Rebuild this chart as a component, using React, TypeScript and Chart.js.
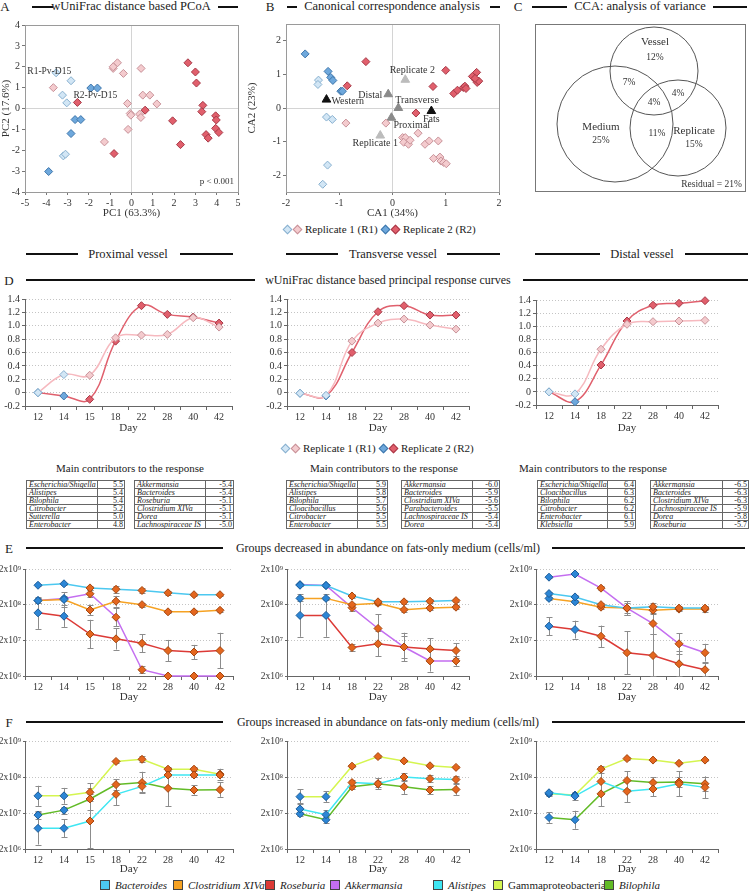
import React, { useEffect, useRef } from "react";
import { Chart, registerables } from "chart.js";

Chart.register(...registerables);
const FONT = "'Liberation Serif', 'Times New Roman', Times, serif";
Chart.defaults.font.family = FONT;
Chart.defaults.color = "#333";

// ================= DATA =================
// A: wUniFrac PCoA  [PC1, PC2]
const pcoaR1Western = [[-3.54, 1.71], [-2.84, 1.33], [-3.24, 0.64], [-3.04, 0.27], [-3.2, -2.27], [-3.1, -2.19]];
const pcoaR2Western = [[-1.91, 0.98], [-1.6, 0.98], [-2.65, -0.53], [-2.38, -0.53], [-2.84, -1.2], [-3.89, -3.02]];
const pcoaR1Fats = [[-3.67, 1.0], [-0.86, 1.92], [-0.66, 2.19], [-0.86, 2.0], [-0.38, 1.68], [0.45, 1.92], [-0.19, 0.24], [-0.06, -0.24], [-0.03, -0.32], [0.53, 0.64], [0.86, 0.64], [1.19, 0.22], [0.38, -0.27], [0.44, -0.43], [-0.16, -1.0], [-1.27, -1.6]];
const pcoaR2Fats = [[-2.54, 0.29], [0.64, -0.08], [-0.82, -2.16], [1.93, -0.59], [2.3, -1.73], [2.65, 2.19], [3.0, 1.75], [3.05, 1.22], [3.35, 0.15], [3.3, -0.15], [3.95, -0.35], [3.98, -0.55], [3.95, -0.95], [4.1, -1.15], [3.5, -1.25], [3.6, -1.42]];

// B: CCA  [CA1, CA2]
const ccaR1Western = [[-1.39, 0.83], [-1.4, 0.7], [-1.24, -0.27], [-1.13, -0.34], [-1.22, -1.7], [-1.31, -2.27]];
const ccaR2Western = [[-1.64, 1.61], [-1.21, 1.09], [-1.16, 0.91], [-1.12, 0.82], [-0.97, 0.5], [-0.94, 0.5]];
const ccaR1Fats = [[-0.875, -0.45], [-0.125, -0.45], [0.19, -0.88], [0.24, -0.88], [0.21, -1.02], [0.3, -1.08], [0.33, -0.96], [0.48, -0.75], [0.61, -1.08], [0.69, -0.98], [0.86, -0.98], [0.77, -1.5], [0.89, -1.46], [0.91, -1.58], [0.96, -1.62], [1.01, -1.66]];
const ccaR2Fats = [[-0.5, 1.38], [-0.85, 0.66], [0.44, -0.15], [0.76, 0.64], [1.0, 1.12], [1.15, 0.43], [1.22, 0.53], [1.33, 0.61], [1.36, 0.65], [1.38, 0.58], [1.5, 0.94], [1.58, 1.06], [1.56, 0.84], [1.59, 0.76], [1.62, 0.8], [1.55, 0.88]];
const ccaReplicates = [["Replicate 2", 0.24, 0.84], ["Replicate 1", -0.23, -0.82]];
const ccaVessels = [["Distal", -0.08, 0.41], ["Transverse", 0.11, 0.0], ["Proximal", -0.02, -0.29]];
const ccaMedia = [["Western", -1.24, 0.25], ["Fats", 0.73, -0.09]];

// C: variance partitioning
const vennSets = [
  { name: "Vessel", pct: "12%", cx: 119, cy: 120, r: 44 },
  { name: "Medium", pct: "25%", cx: 80, cy: 67, r: 58 },
  { name: "Replicate", pct: "15%", cx: 143, cy: 63, r: 48 },
];
const vennShared = [["7%", 94, 109], ["4%", 143, 98], ["4%", 119, 89], ["11%", 122, 58]];
const vennResidual = "Residual = 21%";

// D: principal response curves
const days8 = ["12", "14", "15", "18", "22", "28", "40", "42"];
const days7 = ["12", "14", "18", "22", "28", "40", "42"];
const westernDays = ["12", "14"];
const proxR1 = [0.0, 0.27, 0.26, 0.82, 0.86, 0.87, 1.12, 0.98];
const proxR2 = [0.0, -0.05, -0.1, 0.77, 1.3, 1.17, 1.13, 1.04];
const transR1 = [-0.01, -0.04, 0.77, 1.04, 1.1, 1.01, 0.95];
const transR2 = [-0.01, -0.05, 0.6, 1.21, 1.3, 1.16, 1.16];
const distR1 = [0.0, -0.03, 0.65, 1.03, 1.07, 1.08, 1.09];
const distR2 = [0.0, -0.15, 0.41, 1.08, 1.32, 1.35, 1.39];
const prcTicks = [-0.2, 0, 0.2, 0.4, 0.6, 0.8, 1.0, 1.2, 1.4];

// Main contributors tables
const proxPos = [["Escherichia/Shigella", 5.5], ["Alistipes", 5.4], ["Bilophila", 5.4], ["Citrobacter", 5.2], ["Sutterella", 5.0], ["Enterobacter", 4.8]];
const proxNeg = [["Akkermansia", -5.4], ["Bacteroides", -5.4], ["Roseburia", -5.1], ["Clostridium XIVa", -5.1], ["Dorea", -5.1], ["Lachnospiraceae IS", -5.0]];
const transPos = [["Escherichia/Shigella", 5.9], ["Alistipes", 5.8], ["Bilophila", 5.7], ["Cloacibacillus", 5.6], ["Citrobacter", 5.5], ["Enterobacter", 5.5]];
const transNeg = [["Akkermansia", -6.0], ["Bacteroides", -5.9], ["Clostridium XIVa", -5.6], ["Parabacteroides", -5.5], ["Lachnospiraceae IS", -5.4], ["Dorea", -5.4]];
const distPos = [["Escherichia/Shigella", 6.4], ["Cloacibacillus", 6.3], ["Bilophila", 6.2], ["Citrobacter", 6.2], ["Enterobacter", 6.1], ["Klebsiella", 5.9]];
const distNeg = [["Akkermansia", -6.5], ["Bacteroides", -6.3], ["Clostridium XIVa", -6.3], ["Lachnospiraceae IS", -5.9], ["Dorea", -5.8], ["Roseburia", -5.7]];

// E: decreased groups (cells/ml); err = half-width in log10 units
const logTicks = [2e6, 2e7, 2e8, 2e9];
const eProxBacteroides = [7.0e8, 7.7e8, 5.9e8, 5.4e8, 5.0e8, 4.3e8, 3.8e8, 3.8e8];
const eProxBacteroidesErr = [0.03, 0.03, 0.06, 0.1, 0.07, 0.05, 0.03, 0.03];
const eProxClostridium = [2.6e8, 2.8e8, 1.42e8, 2.5e8, 2.0e8, 1.26e8, 1.26e8, 1.39e8];
const eProxClostridiumErr = [0.08, 0.2, 0.15, 0.15, 0.06, 0.04, 0.04, 0.04];
const eProxRoseburia = [1.18e8, 9.5e7, 3.0e7, 2.2e7, 1.65e7, 1.03e7, 9.4e6, 1.03e7];
const eProxRoseburiaErr = [0.45, 0.3, 0.4, 0.3, 0.25, 0.3, 0.2, 0.5];
const eProxAkkermansia = [2.6e8, 3.0e8, 4.05e8, 8.9e7, 3.0e6, 2.0e6, 2.0e6, 2.0e6];
const eProxAkkermansiaErr = [0.08, 0.08, 0.1, 0.25, 0.1, 0, 0, 0];

const eTransBacteroides = [7.0e8, 6.9e8, 3.5e8, 2.4e8, 2.4e8, 2.5e8, 2.6e8];
const eTransBacteroidesErr = [0.03, 0.03, 0.05, 0.05, 0.05, 0.05, 0.05];
const eTransClostridium = [3.0e8, 3.0e8, 2.0e8, 2.2e8, 1.45e8, 1.6e8, 1.7e8];
const eTransClostridiumErr = [0.06, 0.04, 0.05, 0.05, 0.06, 0.05, 0.05];
const eTransRoseburia = [1.0e8, 1.0e8, 1.26e7, 1.6e7, 1.3e7, 1.15e7, 1.03e7];
const eTransRoseburiaErr = [0.6, 0.6, 0.1, 0.35, 0.3, 0.3, 0.2];
const eTransAkkermansia = [7.3e8, 6.9e8, 1.65e8, 4.3e7, 1.3e7, 5.3e6, 5.3e6];
const eTransAkkermansiaErr = [0.03, 0.03, 0.1, 0.4, 0.4, 0.3, 0.15];

const eDistBacteroides = [4.1e8, 3.3e8, 2.0e8, 1.6e8, 1.75e8, 1.6e8, 1.6e8];
const eDistBacteroidesErr = [0.05, 0.04, 0.06, 0.2, 0.1, 0.05, 0.05];
const eDistClostridium = [3.0e8, 2.4e8, 1.7e8, 1.6e8, 1.4e8, 1.5e8, 1.5e8];
const eDistClostridiumErr = [0.04, 0.04, 0.04, 0.2, 0.1, 0.06, 0.08];
const eDistRoseburia = [5.0e7, 4.0e7, 2.6e7, 9.0e6, 7.5e6, 4.4e6, 3.0e6];
const eDistRoseburiaErr = [0.25, 0.25, 0.3, 0.6, 0.6, 0.35, 0.2];
const eDistAkkermansia = [1.18e9, 1.45e9, 5.8e8, 1.6e8, 5.9e7, 1.6e7, 9.0e6];
const eDistAkkermansiaErr = [0.03, 0.03, 0.05, 0.15, 0.3, 0.3, 0.25];

// F: increased groups
const fProxGamma = [6.0e7, 6.0e7, 7.5e7, 5.4e8, 6.2e8, 3.3e8, 3.3e8, 2.4e8];
const fProxGammaErr = [0.28, 0.22, 0.25, 0.05, 0.08, 0.05, 0.05, 0.15];
const fProxBilophila = [1.75e7, 2.4e7, 4.9e7, 1.23e8, 1.4e8, 9.7e7, 8.7e7, 8.9e7];
const fProxBilophilaErr = [0.1, 0.1, 0.3, 0.15, 0.3, 0.5, 0.13, 0.2];
const fProxAlistipes = [7.5e6, 7.5e6, 1.2e7, 6.6e7, 1.1e8, 2.27e8, 2.27e8, 2.27e8];
const fProxAlistipesErr = [0.45, 0.25, 0.75, 0.3, 0.15, 0.03, 0.05, 0.05];

const fTransGamma = [5.7e7, 5.7e7, 4.0e8, 7.4e8, 5.6e8, 4.1e8, 3.7e8];
const fTransGammaErr = [0.2, 0.15, 0.03, 0.03, 0.03, 0.03, 0.03];
const fTransAlistipes = [2.6e7, 1.8e7, 1.4e8, 1.3e8, 2.0e8, 1.8e8, 1.7e8];
const fTransAlistipesErr = [0.15, 0.12, 0.06, 0.08, 0.1, 0.1, 0.1];
const fTransBilophila = [1.9e7, 1.3e7, 1.07e8, 1.3e8, 1.07e8, 8.7e7, 9.0e7];
const fTransBilophilaErr = [0.05, 0.08, 0.05, 0.15, 0.2, 0.1, 0.15];

const fDistGamma = [6.8e7, 6.3e7, 3.3e8, 6.5e8, 5.9e8, 4.8e8, 5.9e8];
const fDistGammaErr = [0.05, 0.03, 0.1, 0.03, 0.03, 0.03, 0.03];
const fDistAlistipes = [7.3e7, 5.9e7, 1.5e8, 8.0e7, 9.3e7, 1.3e8, 1.03e8];
const fDistAlistipesErr = [0.05, 0.1, 0.35, 0.3, 0.2, 0.35, 0.3];
const fDistBilophila = [1.5e7, 1.3e7, 6.8e7, 1.6e8, 1.4e8, 1.45e8, 1.3e8];
const fDistBilophilaErr = [0.15, 0.25, 0.35, 0.25, 0.15, 0.15, 0.2];

const taxaLegend = ["Bacteroides", "Clostridium XIVa", "Roseburia", "Akkermansia", "Alistipes", "Gammaproteobacteria", "Bilophila"];

// ================= STYLES =================
const TAXA_COLOR: Record<string, string> = {
  Bacteroides: "#4cc8f0",
  "Clostridium XIVa": "#f6a223",
  Roseburia: "#dc3a36",
  Akkermansia: "#c46ef0",
  Alistipes: "#3fe6f2",
  Gammaproteobacteria: "#d5f550",
  Bilophila: "#62bb27",
};
const MK = {
  western: { fill: "#2c86d6", stroke: "#1b5b98" },
  fats: { fill: "#e4661e", stroke: "#a5460e" },
};
const REP = {
  r1w: { fill: "#d2e6f5", stroke: "#88b0cf" },
  r2w: { fill: "#6ea8dc", stroke: "#3e76ab" },
  r1f: { fill: "#f4cbce", stroke: "#c79198" },
  r2f: { fill: "#e15f6c", stroke: "#a63947" },
};

type Rect = { x: number; y: number; w: number; h: number };
type Plot = { l: number; t: number; r: number; b: number };
function geom(c: Rect, p: Plot) {
  return {
    padding: { left: 0, top: p.t - c.y, right: c.x + c.w - p.r, bottom: 0 },
    yw: p.l - c.x,
    xh: c.y + c.h - p.b,
  };
}

const boxPlugin = (color: string) => ({
  id: "plotBox",
  afterDraw(chart: any) {
    const { ctx, chartArea: a } = chart;
    ctx.save();
    ctx.strokeStyle = color;
    ctx.lineWidth = 1;
    ctx.strokeRect(Math.round(a.left) + 0.5, Math.round(a.top) + 0.5, Math.round(a.right - a.left), Math.round(a.bottom - a.top));
    ctx.restore();
  },
});

type Lbl = { text: string; x: number; y: number; dx?: number; dy?: number; align?: string; size?: number; color?: string };
const labelPlugin = (items: Lbl[]) => ({
  id: "dataLabels",
  afterDatasetsDraw(chart: any) {
    const { ctx } = chart;
    const xs = chart.scales.x, ys = chart.scales.y;
    items.forEach((it) => {
      ctx.save();
      ctx.font = `${it.size || 10}px ${FONT}`;
      ctx.fillStyle = it.color || "#333";
      ctx.textAlign = it.align || "center";
      ctx.textBaseline = "middle";
      ctx.fillText(it.text, xs.getPixelForValue(it.x) + (it.dx || 0), ys.getPixelForValue(it.y) + (it.dy || 0));
      ctx.restore();
    });
  },
});

const errorBarPlugin = {
  id: "errBars",
  beforeDatasetsDraw(chart: any) {
    const { ctx, chartArea: a } = chart;
    const ys = chart.scales.y;
    chart.data.datasets.forEach((ds: any, i: number) => {
      if (!ds.errs) return;
      const meta = chart.getDatasetMeta(i);
      ctx.save();
      ctx.strokeStyle = "#8c8c8c";
      ctx.lineWidth = 1;
      meta.data.forEach((pt: any, j: number) => {
        const v = ds.data[j];
        const e = ds.errs[j];
        if (!e) return;
        const hi = Math.max(a.top, ys.getPixelForValue(v * Math.pow(10, e)));
        const lo = Math.min(a.bottom, ys.getPixelForValue(v / Math.pow(10, e)));
        const x = Math.round(pt.x) + 0.5;
        ctx.beginPath();
        ctx.moveTo(x, hi);
        ctx.lineTo(x, lo);
        ctx.moveTo(x - 3, Math.round(hi) + 0.5);
        ctx.lineTo(x + 3, Math.round(hi) + 0.5);
        ctx.moveTo(x - 3, Math.round(lo) + 0.5);
        ctx.lineTo(x + 3, Math.round(lo) + 0.5);
        ctx.stroke();
      });
      ctx.restore();
    });
  },
};

const zeroGrid = (c: any) => (c.tick && c.tick.value === 0 ? "#d4d4d4" : "rgba(0,0,0,0)");
const pts = (arr: number[][]) => arr.map(([x, y]) => ({ x, y }));
const diamonds = (arr: number[][], st: { fill: string; stroke: string }) => ({
  data: pts(arr),
  pointStyle: "rectRot",
  pointRadius: 4,
  backgroundColor: st.fill,
  borderColor: st.stroke,
  borderWidth: 1,
  clip: false,
});
const triangles = (arr: any[], fill: string) => ({
  data: arr.map((t) => ({ x: t[1], y: t[2] })),
  pointStyle: "triangle",
  pointRadius: 5,
  backgroundColor: fill,
  borderColor: fill,
  borderWidth: 1,
  clip: false,
});

function scatterConfig(rect: Rect, plot: Plot, xr: number[], xt: number[], yr: number[], yt: number[], xTitle: string, yTitle: string, datasets: any[], labels: Lbl[]) {
  const g = geom(rect, plot);
  return {
    type: "scatter",
    data: { datasets },
    options: {
      animation: false,
      responsive: false,
      events: [],
      layout: { padding: g.padding, autoPadding: false },
      plugins: { legend: { display: false }, tooltip: { enabled: false } },
      scales: {
        x: {
          type: "linear", min: xr[0], max: xr[1],
          afterBuildTicks: (s: any) => { s.ticks = xt.map((v) => ({ value: v })); },
          ticks: { font: { size: 10 }, padding: 2, color: "#333", autoSkip: false, maxRotation: 0 },
          grid: { color: zeroGrid, tickColor: "#777", tickLength: 3 },
          border: { color: "#999" },
          title: { display: true, text: xTitle, font: { size: 11 }, padding: 0, color: "#333" },
          afterFit: (s: any) => { s.height = g.xh; },
        },
        y: {
          type: "linear", min: yr[0], max: yr[1],
          afterBuildTicks: (s: any) => { s.ticks = yt.map((v) => ({ value: v })); },
          ticks: { font: { size: 10 }, padding: 2, color: "#333", autoSkip: false },
          grid: { color: zeroGrid, tickColor: "#777", tickLength: 3 },
          border: { color: "#999" },
          title: { display: true, text: yTitle, font: { size: 11 }, padding: 0, color: "#333" },
          afterFit: (s: any) => { s.width = g.yw; },
        },
      },
    },
    plugins: [boxPlugin("#9a9a9a"), labelPlugin(labels)],
  };
}

const aRect = { x: 0, y: 14, w: 245, h: 206 };
const aPlot = { l: 25, t: 25, r: 238, b: 192 };
const makeA = () =>
  scatterConfig(aRect, aPlot, [-5, 5], [-5, -4, -3, -2, -1, 0, 1, 2, 3, 4, 5], [-4, 4], [-4, -3, -2, -1, 0, 1, 2, 3, 4], "PC1 (63.3%)", "PC2 (17.6%)",
    [diamonds(pcoaR1Western, REP.r1w), diamonds(pcoaR2Western, REP.r2w), diamonds(pcoaR1Fats, REP.r1f), diamonds(pcoaR2Fats, REP.r2f)],
    [
      { text: "R1-Pv-D15", x: pcoaR1Fats[0][0], y: pcoaR1Fats[0][1], dx: -26, dy: -16, align: "left", size: 9.5 },
      { text: "R2-Pv-D15", x: pcoaR2Fats[0][0], y: pcoaR2Fats[0][1], dx: -4, dy: -7, align: "left", size: 9.5 },
      { text: "p < 0.001", x: 5, y: -4, dx: -4, dy: -10, align: "right", size: 9 },
    ]);

const bRect = { x: 246, y: 14, w: 258, h: 206 };
const bPlot = { l: 286, t: 24, r: 499, b: 192 };
const makeB = () =>
  scatterConfig(bRect, bPlot, [-2, 2], [-2, -1, 0, 1, 2], [-2.5, 2.5], [-2, -1, 0, 1, 2], "CA1 (34%)", "CA2 (23%)",
    [
      diamonds(ccaR1Western, REP.r1w), diamonds(ccaR2Western, REP.r2w), diamonds(ccaR1Fats, REP.r1f), diamonds(ccaR2Fats, REP.r2f),
      triangles(ccaReplicates, "#bcbcbc"), triangles(ccaVessels, "#8a8a8a"), triangles(ccaMedia, "#111"),
    ],
    [
      { text: ccaReplicates[0][0] as string, x: ccaReplicates[0][1] as number, y: ccaReplicates[0][2] as number, dx: 7, dy: -9 },
      { text: ccaReplicates[1][0] as string, x: ccaReplicates[1][1] as number, y: ccaReplicates[1][2] as number, dx: -5, dy: 8 },
      { text: ccaVessels[0][0] as string, x: ccaVessels[0][1] as number, y: ccaVessels[0][2] as number, dx: -6, dy: 1, align: "right" },
      { text: ccaVessels[1][0] as string, x: ccaVessels[1][1] as number, y: ccaVessels[1][2] as number, dx: -3, dy: -8, align: "left" },
      { text: ccaVessels[2][0] as string, x: ccaVessels[2][1] as number, y: ccaVessels[2][2] as number, dx: 2, dy: 8, align: "left" },
      { text: ccaMedia[0][0] as string, x: ccaMedia[0][1] as number, y: ccaMedia[0][2] as number, dx: 5, dy: 2, align: "left" },
      { text: ccaMedia[1][0] as string, x: ccaMedia[1][1] as number, y: ccaMedia[1][2] as number, dx: 0, dy: 8 },
    ]);

const cRect = { x: 530, y: 14, w: 220, h: 185 };
const makeC = () => ({
  type: "bubble",
  data: {
    datasets: [{
      data: vennSets.map((s) => ({ x: s.cx, y: s.cy, r: s.r })),
      backgroundColor: "rgba(0,0,0,0)",
      borderColor: "#555",
      borderWidth: 1,
      clip: false,
    }],
  },
  options: {
    animation: false,
    responsive: false,
    events: [],
    layout: { padding: { left: 5, top: 10, right: 5, bottom: 8 }, autoPadding: false },
    plugins: { legend: { display: false }, tooltip: { enabled: false } },
    scales: { x: { display: false, min: 0, max: 210 }, y: { display: false, min: 0, max: 167 } },
  },
  plugins: [
    boxPlugin("#777"),
    labelPlugin([
      ...vennSets.map((s) => ({ text: s.name, x: s.name === "Vessel" ? s.cx + 1 : s.name === "Medium" ? s.cx - 14 : s.cx + 16, y: s.name === "Vessel" ? s.cy + 29 : s.cy - 3, size: 11 })),
      ...vennSets.map((s) => ({ text: s.pct, x: s.name === "Vessel" ? s.cx + 1 : s.name === "Medium" ? s.cx - 14 : s.cx + 16, y: s.name === "Vessel" ? s.cy + 14 : s.cy - 16, size: 9.5 })),
      ...vennShared.map((v) => ({ text: v[0] as string, x: v[1] as number, y: v[2] as number, size: 9.5 })),
      { text: vennResidual, x: 210, y: 0, dx: -3, dy: -7, align: "right", size: 9.5 },
    ]),
  ],
});

// ---- D charts
function prcConfig(rect: Rect, plot: Plot, days: string[], r1: number[], r2: number[]) {
  const g = geom(rect, plot);
  const isW = (d: string) => westernDays.includes(d);
  const line = (data: number[], color: string, w: any, f: any) => ({
    data,
    borderColor: color,
    borderWidth: 1.5,
    tension: 0.4,
    pointStyle: "rectRot",
    pointRadius: 4,
    pointBackgroundColor: days.map((d) => (isW(d) ? w.fill : f.fill)),
    pointBorderColor: days.map((d) => (isW(d) ? w.stroke : f.stroke)),
    pointBorderWidth: 1,
    clip: false,
  });
  return {
    type: "line",
    data: { labels: days, datasets: [line(r1, "#f6b9bf", REP.r1w, REP.r1f), line(r2, "#e0606d", REP.r2w, REP.r2f)] },
    options: {
      animation: false,
      responsive: false,
      events: [],
      layout: { padding: g.padding, autoPadding: false },
      plugins: { legend: { display: false }, tooltip: { enabled: false } },
      scales: {
        x: {
          type: "category", offset: true,
          grid: { offset: true, drawOnChartArea: false, tickLength: 4, tickColor: "#666" },
          border: { color: "#666" },
          ticks: { font: { size: 10 }, padding: 1, color: "#333", autoSkip: false, maxRotation: 0 },
          title: { display: true, text: "Day", font: { size: 11 }, padding: 0, color: "#333" },
          afterFit: (s: any) => { s.height = g.xh; },
        },
        y: {
          min: -0.2, max: 1.4,
          afterBuildTicks: (s: any) => { s.ticks = prcTicks.map((v) => ({ value: v })); },
          ticks: { font: { size: 10 }, padding: 2, color: "#333", autoSkip: false, callback: (v: number) => (Math.abs(v) < 1e-9 ? "0" : v.toFixed(1)) },
          grid: { color: "#c4c4c4", tickColor: "#666", tickLength: 3 },
          border: { color: "#666", dash: [1, 2] },
          afterFit: (s: any) => { s.width = g.yw; },
        },
      },
    },
  };
}

const supDigits: Record<string, string> = { "6": "⁶", "7": "⁷", "8": "⁸", "9": "⁹" };
function abundConfig(rect: Rect, plot: Plot, days: string[], series: { name: string; data: number[]; err: number[] }[]) {
  const g = geom(rect, plot);
  const isW = (d: string) => westernDays.includes(d);
  return {
    type: "line",
    data: {
      labels: days,
      datasets: series.map((s) => ({
        data: s.data,
        errs: s.err,
        borderColor: TAXA_COLOR[s.name],
        borderWidth: 1.5,
        tension: 0,
        pointStyle: "rectRot",
        pointRadius: 4,
        pointBackgroundColor: days.map((d) => (isW(d) ? MK.western.fill : MK.fats.fill)),
        pointBorderColor: days.map((d) => (isW(d) ? MK.western.stroke : MK.fats.stroke)),
        pointBorderWidth: 1,
        clip: false,
      })),
    },
    options: {
      animation: false,
      responsive: false,
      events: [],
      layout: { padding: g.padding, autoPadding: false },
      plugins: { legend: { display: false }, tooltip: { enabled: false } },
      scales: {
        x: {
          type: "category", offset: true,
          grid: { offset: true, drawOnChartArea: false, tickLength: 4, tickColor: "#666" },
          border: { color: "#666" },
          ticks: { font: { size: 10 }, padding: 1, color: "#333", autoSkip: false, maxRotation: 0 },
          title: { display: true, text: "Day", font: { size: 11 }, padding: 0, color: "#333" },
          afterFit: (s: any) => { s.height = g.xh; },
        },
        y: {
          type: "logarithmic", min: 2e6, max: 2e9,
          afterBuildTicks: (s: any) => { s.ticks = logTicks.map((v) => ({ value: v })); },
          ticks: {
            font: { size: 9.5 }, padding: 2, color: "#333", autoSkip: false,
            callback: (v: number) => "2x10" + supDigits[String(Math.round(Math.log10(v / 2)))],
          },
          grid: { color: "#c4c4c4", tickColor: "#666", tickLength: 2 },
          border: { color: "#666", dash: [1, 2] },
          afterFit: (s: any) => { s.width = g.yw; },
        },
      },
    },
    plugins: [errorBarPlugin],
  };
}

const dRects = [
  { x: 0, y: 290, w: 245, h: 145 },
  { x: 250, y: 290, w: 240, h: 145 },
  { x: 500, y: 290, w: 240, h: 145 },
];
const dPlots = [
  { l: 25, t: 299, r: 232, b: 406 },
  { l: 287, t: 299, r: 469, b: 406 },
  { l: 536, t: 300, r: 718, b: 405 },
];
const eRects = [
  { x: 0, y: 560, w: 245, h: 144 },
  { x: 250, y: 560, w: 240, h: 144 },
  { x: 500, y: 560, w: 240, h: 144 },
];
const ePlots = [
  { l: 25, t: 569, r: 233, b: 676 },
  { l: 287, t: 569, r: 469, b: 676 },
  { l: 536, t: 569, r: 718, b: 676 },
];
const fRects = [
  { x: 0, y: 732, w: 245, h: 144 },
  { x: 250, y: 732, w: 240, h: 144 },
  { x: 500, y: 732, w: 240, h: 144 },
];
const fPlots = [
  { l: 25, t: 741, r: 233, b: 849 },
  { l: 287, t: 741, r: 469, b: 849 },
  { l: 536, t: 741, r: 718, b: 849 },
];

const S = (name: string, data: number[], err: number[]) => ({ name, data, err });

// ================= COMPONENTS =================
function ChartCanvas({ rect, make }: { rect: Rect; make: () => any }) {
  const ref = useRef<HTMLCanvasElement | null>(null);
  useEffect(() => {
    if (!ref.current) return;
    const ch = new Chart(ref.current, make());
    return () => ch.destroy();
  }, []);
  return (
    <canvas ref={ref} width={rect.w} height={rect.h}
      style={{ position: "absolute", left: rect.x, top: rect.y, width: rect.w, height: rect.h }} />
  );
}

function T({ x, y, s = 12, align = "center", italic = false, children, color = "#222" }: any) {
  const tr = align === "center" ? "translate(-50%,-50%)" : align === "right" ? "translate(-100%,-50%)" : "translateY(-50%)";
  return (
    <div style={{ position: "absolute", left: x, top: y, transform: tr, fontSize: s, lineHeight: 1, whiteSpace: "nowrap", fontStyle: italic ? "italic" : "normal", color }}>
      {children}
    </div>
  );
}
function HL({ x1, x2, y, w = 2 }: any) {
  return <div style={{ position: "absolute", left: x1, top: y - w / 2, width: x2 - x1, height: w, background: "#111" }} />;
}
function Diamond({ x, y, fill, stroke, s = 7 }: any) {
  return <div style={{ position: "absolute", left: x - s / 2, top: y - s / 2, width: s, height: s, background: fill, border: `1px solid ${stroke}`, boxSizing: "border-box", transform: "rotate(45deg)" }} />;
}
function RepLegend({ x, y }: any) {
  return (
    <>
      <Diamond x={x} y={y} {...REP.r1w} />
      <Diamond x={x + 10} y={y} {...REP.r1f} />
      <T x={x + 18} y={y} s={11} align="left">Replicate 1 (R1)</T>
      <Diamond x={x + 98} y={y} {...REP.r2w} />
      <Diamond x={x + 108} y={y} {...REP.r2f} />
      <T x={x + 116} y={y} s={11} align="left">Replicate 2 (R2)</T>
    </>
  );
}
function Contrib({ x, y, nameW, valW, rows }: any) {
  const cell: any = { border: "1px solid #666", padding: "0 1px 0 2px", height: 7, lineHeight: "7px", fontSize: 8, overflow: "hidden", whiteSpace: "nowrap" };
  return (
    <table style={{ position: "absolute", left: x, top: y, borderCollapse: "collapse", fontFamily: FONT, color: "#222", tableLayout: "fixed", width: nameW + valW }}>
      <colgroup>
        <col style={{ width: nameW }} />
        <col style={{ width: valW }} />
      </colgroup>
      <tbody>
        {rows.map((r: any, i: number) => (
          <tr key={i}>
            <td style={{ ...cell, fontStyle: "italic" }}>{r[0]}</td>
            <td style={{ ...cell, textAlign: "right" }}>{(r[1] as number).toFixed(1)}</td>
          </tr>
        ))}
      </tbody>
    </table>
  );
}

const legendX = [100, 173, 265, 330, 433, 493, 604];

export default function App() {
  return (
    <div style={{ position: "absolute", left: 0, top: 0, width: 750, height: 891, background: "#fff", fontFamily: FONT, color: "#222", overflow: "hidden" }}>
      {/* Panel titles */}
      <T x={5} y={6} s={13}>A</T>
      <HL x1={32} x2={53} y={7} />
      <T x={131} y={6} s={12.5}>wUniFrac distance based PCoA</T>
      <HL x1={218} x2={238} y={7} />
      <T x={270} y={6} s={13}>B</T>
      <HL x1={287} x2={297} y={7} />
      <T x={392} y={6} s={12.5}>Canonical correspondence analysis</T>
      <HL x1={490} x2={500} y={7} />
      <T x={518} y={6} s={13}>C</T>
      <HL x1={532} x2={567} y={7} />
      <T x={640} y={6} s={12.5}>CCA: analysis of variance</T>
      <HL x1={713} x2={747} y={7} />

      <ChartCanvas rect={aRect} make={makeA} />
      <ChartCanvas rect={bRect} make={makeB} />
      <ChartCanvas rect={cRect} make={makeC} />
      <RepLegend x={287} y={229} />

      {/* vessel headers */}
      <HL x1={26} x2={78} y={254} />
      <T x={128} y={254} s={12.5}>Proximal vessel</T>
      <HL x1={180} x2={233} y={254} />
      <HL x1={286} x2={338} y={254} />
      <T x={393} y={254} s={12.5}>Transverse vessel</T>
      <HL x1={447} x2={500} y={254} />
      <HL x1={535} x2={600} y={254} />
      <T x={642} y={254} s={12.5}>Distal vessel</T>
      <HL x1={685} x2={748} y={254} />

      <T x={9} y={280} s={13}>D</T>
      <HL x1={26} x2={255} y={280} w={2.5} />
      <T x={388} y={280} s={12}>wUniFrac distance based principal response curves</T>
      <HL x1={523} x2={748} y={280} w={2.5} />

      <ChartCanvas rect={dRects[0]} make={() => prcConfig(dRects[0], dPlots[0], days8, proxR1, proxR2)} />
      <ChartCanvas rect={dRects[1]} make={() => prcConfig(dRects[1], dPlots[1], days7, transR1, transR2)} />
      <ChartCanvas rect={dRects[2]} make={() => prcConfig(dRects[2], dPlots[2], days7, distR1, distR2)} />
      <RepLegend x={285} y={448} />

      <T x={130} y={468} s={11}>Main contributors to the response</T>
      <T x={384} y={468} s={11}>Main contributors to the response</T>
      <T x={593} y={468} s={11}>Main contributors to the response</T>
      <Contrib x={26} y={480} nameW={71} valW={27} rows={proxPos} />
      <Contrib x={134} y={480} nameW={71} valW={28} rows={proxNeg} />
      <Contrib x={286} y={480} nameW={71} valW={30} rows={transPos} />
      <Contrib x={401} y={480} nameW={71} valW={27} rows={transNeg} />
      <Contrib x={537} y={480} nameW={70} valW={28} rows={distPos} />
      <Contrib x={650} y={480} nameW={72} valW={26} rows={distNeg} />

      <T x={9} y={548} s={13}>E</T>
      <HL x1={26} x2={223} y={548} w={2.5} />
      <T x={388} y={548} s={12}>Groups decreased in abundance on fats-only medium (cells/ml)</T>
      <HL x1={552} x2={745} y={548} w={2.5} />

      <ChartCanvas rect={eRects[0]} make={() => abundConfig(eRects[0], ePlots[0], days8, [
        S("Bacteroides", eProxBacteroides, eProxBacteroidesErr),
        S("Clostridium XIVa", eProxClostridium, eProxClostridiumErr),
        S("Akkermansia", eProxAkkermansia, eProxAkkermansiaErr),
        S("Roseburia", eProxRoseburia, eProxRoseburiaErr),
      ])} />
      <ChartCanvas rect={eRects[1]} make={() => abundConfig(eRects[1], ePlots[1], days7, [
        S("Bacteroides", eTransBacteroides, eTransBacteroidesErr),
        S("Clostridium XIVa", eTransClostridium, eTransClostridiumErr),
        S("Akkermansia", eTransAkkermansia, eTransAkkermansiaErr),
        S("Roseburia", eTransRoseburia, eTransRoseburiaErr),
      ])} />
      <ChartCanvas rect={eRects[2]} make={() => abundConfig(eRects[2], ePlots[2], days7, [
        S("Bacteroides", eDistBacteroides, eDistBacteroidesErr),
        S("Clostridium XIVa", eDistClostridium, eDistClostridiumErr),
        S("Akkermansia", eDistAkkermansia, eDistAkkermansiaErr),
        S("Roseburia", eDistRoseburia, eDistRoseburiaErr),
      ])} />

      <T x={9} y={722} s={13}>F</T>
      <HL x1={26} x2={223} y={722} w={2.5} />
      <T x={388} y={722} s={12}>Groups increased in abundance on fats-only medium (cells/ml)</T>
      <HL x1={552} x2={745} y={722} w={2.5} />

      <ChartCanvas rect={fRects[0]} make={() => abundConfig(fRects[0], fPlots[0], days8, [
        S("Alistipes", fProxAlistipes, fProxAlistipesErr),
        S("Bilophila", fProxBilophila, fProxBilophilaErr),
        S("Gammaproteobacteria", fProxGamma, fProxGammaErr),
      ])} />
      <ChartCanvas rect={fRects[1]} make={() => abundConfig(fRects[1], fPlots[1], days7, [
        S("Alistipes", fTransAlistipes, fTransAlistipesErr),
        S("Bilophila", fTransBilophila, fTransBilophilaErr),
        S("Gammaproteobacteria", fTransGamma, fTransGammaErr),
      ])} />
      <ChartCanvas rect={fRects[2]} make={() => abundConfig(fRects[2], fPlots[2], days7, [
        S("Alistipes", fDistAlistipes, fDistAlistipesErr),
        S("Bilophila", fDistBilophila, fDistBilophilaErr),
        S("Gammaproteobacteria", fDistGamma, fDistGammaErr),
      ])} />

      {/* taxa legend */}
      {taxaLegend.map((name, i) => (
        <React.Fragment key={name}>
          <div style={{ position: "absolute", left: legendX[i], top: 880, width: 10, height: 10, background: TAXA_COLOR[name], border: "1px solid #444", boxSizing: "border-box" }} />
          <T x={legendX[i] + 15} y={885} s={11} align="left" italic={name !== "Gammaproteobacteria"}>{name}</T>
        </React.Fragment>
      ))}
    </div>
  );
}
